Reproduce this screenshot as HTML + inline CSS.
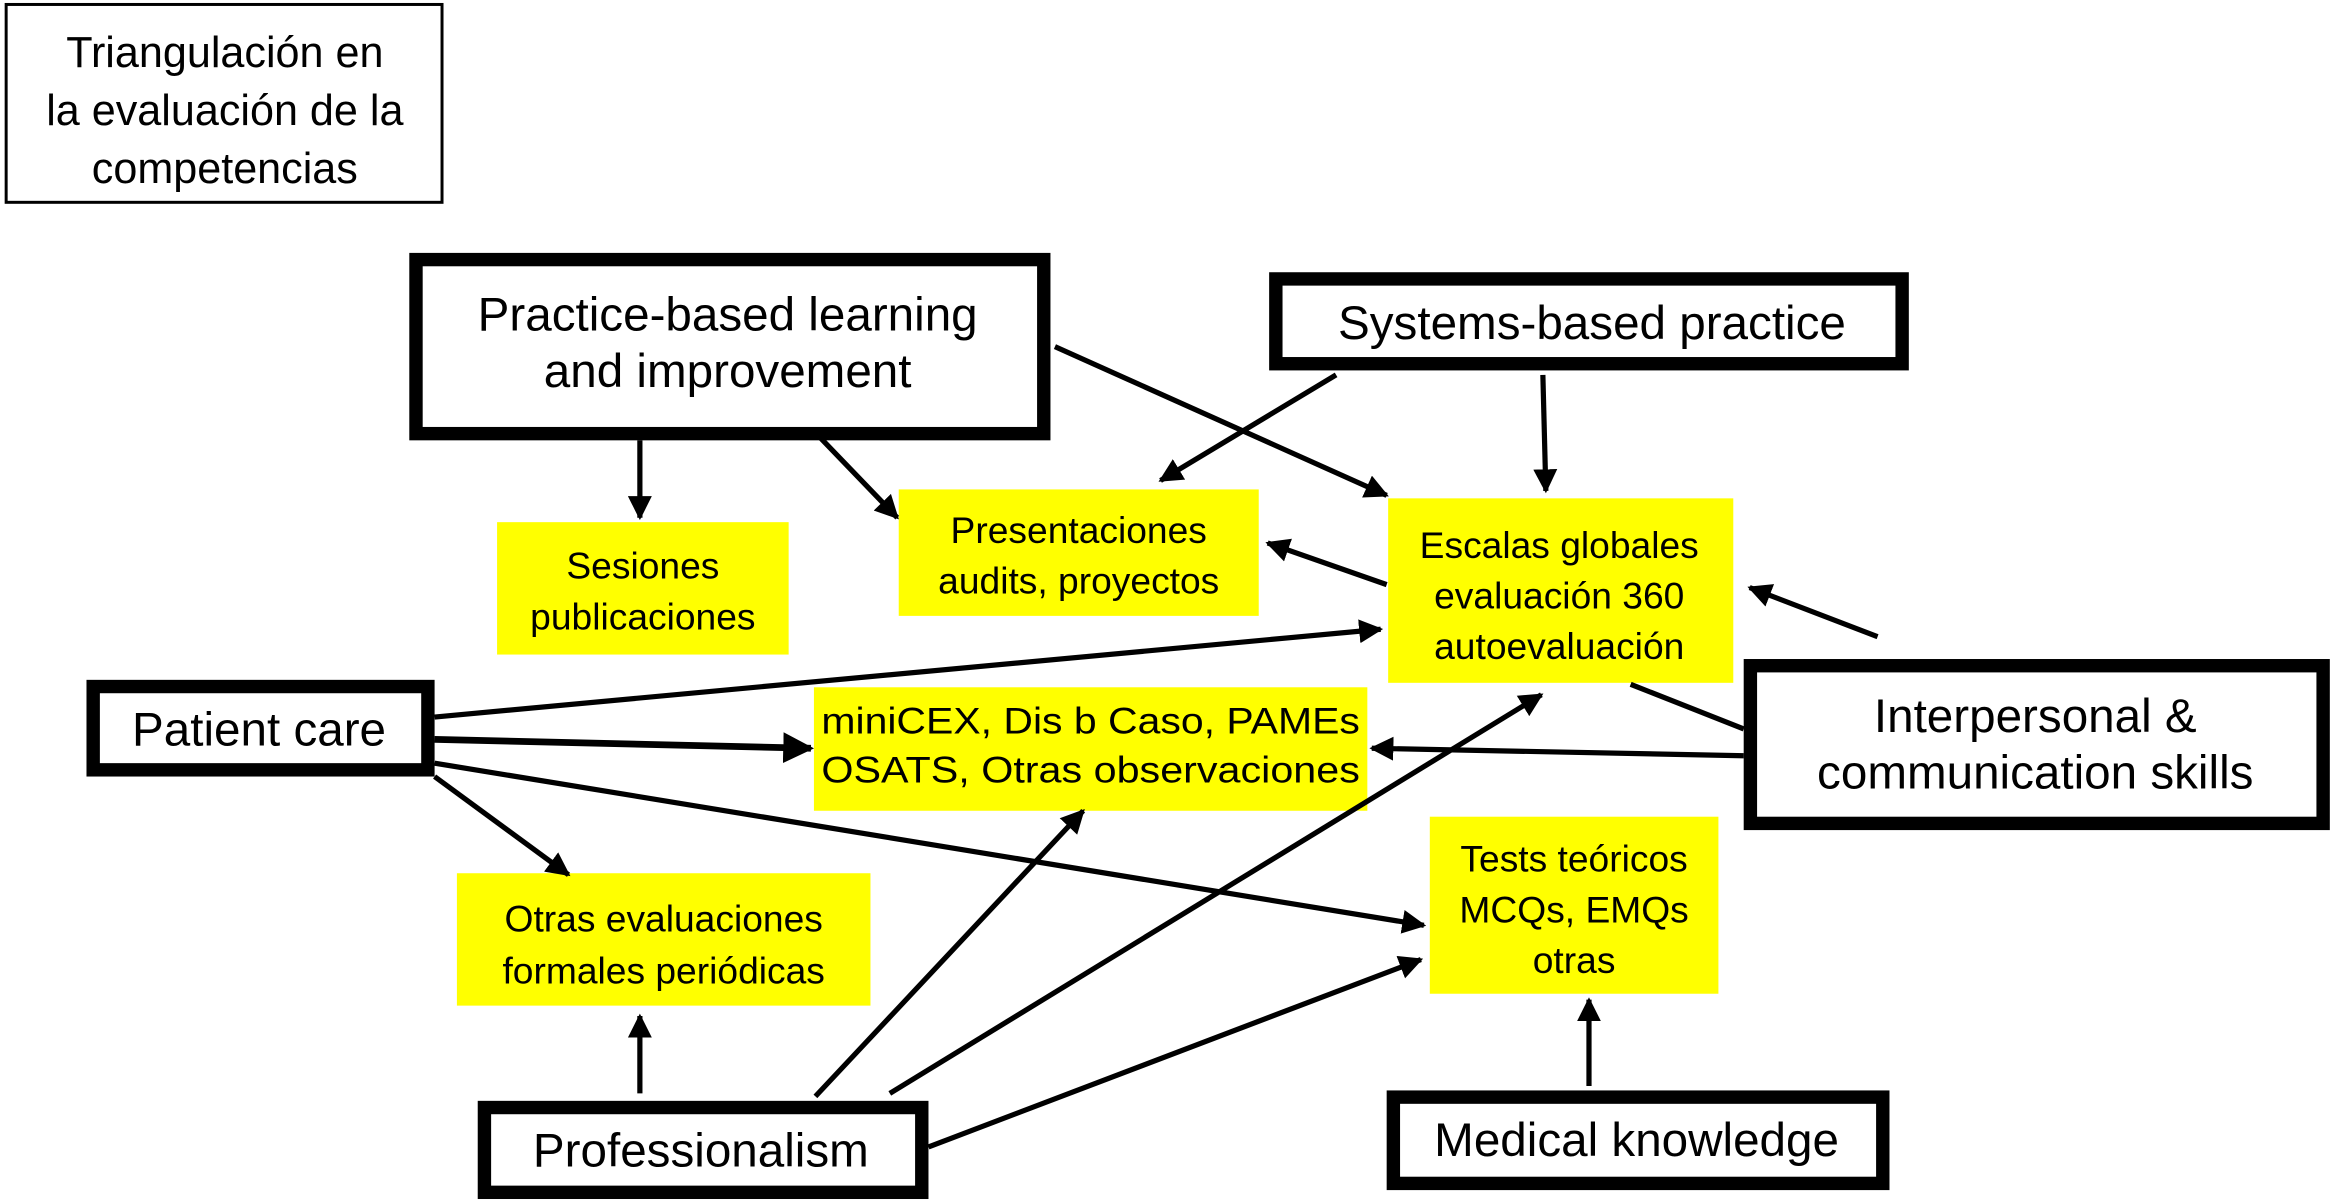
<!DOCTYPE html>
<html><head><meta charset="utf-8"><style>html,body{margin:0;padding:0;background:#fff}svg{display:block}</style></head>
<body>
<svg width="2333" height="1202" viewBox="0 0 1568 808" xmlns="http://www.w3.org/2000/svg" font-family="'Liberation Sans', sans-serif">
<defs>
<marker id="b" viewBox="0 0 10 10" refX="9" refY="5" markerWidth="4.6" markerHeight="4.6" markerUnits="strokeWidth" orient="auto"><path d="M0,0 L10,5 L0,10 z" fill="#000"/></marker>
</defs>
<rect width="1568" height="808" fill="#fff"/>
<g fill="#ffff00">
<rect x="334" y="351" width="196" height="89"/>
<rect x="604" y="329" width="242" height="85"/>
<rect x="933" y="335" width="232" height="124"/>
<rect x="547" y="462" width="372" height="83"/>
<rect x="307" y="587" width="278" height="89"/>
<rect x="961" y="549" width="194" height="119"/>
</g>
<g fill="#fff" stroke="#000" stroke-width="9">
<rect x="279.5" y="174.5" width="422" height="117"/>
<rect x="857.5" y="187.5" width="421" height="57"/>
<rect x="62.5" y="461.5" width="225" height="56"/>
<rect x="1176.5" y="447.5" width="385" height="106"/>
<rect x="325.5" y="744.5" width="294" height="57"/>
<rect x="936.5" y="737.5" width="329" height="58"/>
</g>
<rect x="4" y="3" width="293" height="133" fill="#fff" stroke="#000" stroke-width="2"/>
<g stroke="#000" stroke-width="3.5" fill="none">
<line x1="430" y1="296" x2="430" y2="348" marker-end="url(#b)"/>
<line x1="551" y1="294" x2="603" y2="348" marker-end="url(#b)"/>
<line x1="709" y1="233" x2="932" y2="333" marker-end="url(#b)"/>
<line x1="898" y1="252" x2="780" y2="323" marker-end="url(#b)"/>
<line x1="1037" y1="252" x2="1039" y2="330" marker-end="url(#b)"/>
<line x1="932" y1="393" x2="852" y2="365" marker-end="url(#b)"/>
<line x1="1262" y1="428" x2="1176" y2="395" marker-end="url(#b)"/>
<line x1="1096" y1="460" x2="1172" y2="490"/>
<line x1="1172" y1="508" x2="922" y2="503" marker-end="url(#b)"/>
<line x1="292" y1="482" x2="928" y2="423" marker-end="url(#b)"/>
<line x1="292" y1="497" x2="545" y2="503" stroke-width="4.5" marker-end="url(#b)"/>
<line x1="292" y1="513" x2="957" y2="622" marker-end="url(#b)"/>
<line x1="292" y1="522" x2="382" y2="588" marker-end="url(#b)"/>
<line x1="430" y1="735" x2="430" y2="683" marker-end="url(#b)"/>
<line x1="548" y1="737" x2="728" y2="545" marker-end="url(#b)"/>
<line x1="598" y1="735" x2="1036" y2="467" marker-end="url(#b)"/>
<line x1="624" y1="771" x2="955" y2="645" marker-end="url(#b)"/>
<line x1="1068" y1="730" x2="1068" y2="672" marker-end="url(#b)"/>
</g>
<g text-anchor="middle" fill="#000">
<g font-size="29">
<text x="151" y="45">Triangulación en</text>
<text x="151" y="84">la evaluación de la</text>
<text x="151" y="123">competencias</text>
</g>
<g font-size="32">
<text x="489" y="222">Practice-based learning</text>
<text x="489" y="260">and improvement</text>
<text x="1070" y="228">Systems-based practice</text>
<text x="174" y="501">Patient care</text>
<text x="1368" y="492">Interpersonal &amp;</text>
<text x="1368" y="530">communication skills</text>
<text x="471" y="784">Professionalism</text>
<text x="1100" y="777">Medical knowledge</text>
</g>
<g font-size="25">
<text x="432" y="389">Sesiones</text>
<text x="432" y="423">publicaciones</text>
<text x="725" y="365">Presentaciones</text>
<text x="725" y="399">audits, proyectos</text>
<text x="1048" y="375">Escalas globales</text>
<text x="1048" y="409">evaluación 360</text>
<text x="1048" y="443">autoevaluación</text>
<text x="733" y="493" textLength="362" lengthAdjust="spacingAndGlyphs">miniCEX, Dis b Caso, PAMEs</text>
<text x="733" y="526" textLength="362" lengthAdjust="spacingAndGlyphs">OSATS, Otras observaciones</text>
<text x="446" y="626">Otras evaluaciones</text>
<text x="446" y="661">formales periódicas</text>
<text x="1058" y="586">Tests teóricos</text>
<text x="1058" y="620">MCQs, EMQs</text>
<text x="1058" y="654">otras</text>
</g>
</g>
</svg>
</body></html>
